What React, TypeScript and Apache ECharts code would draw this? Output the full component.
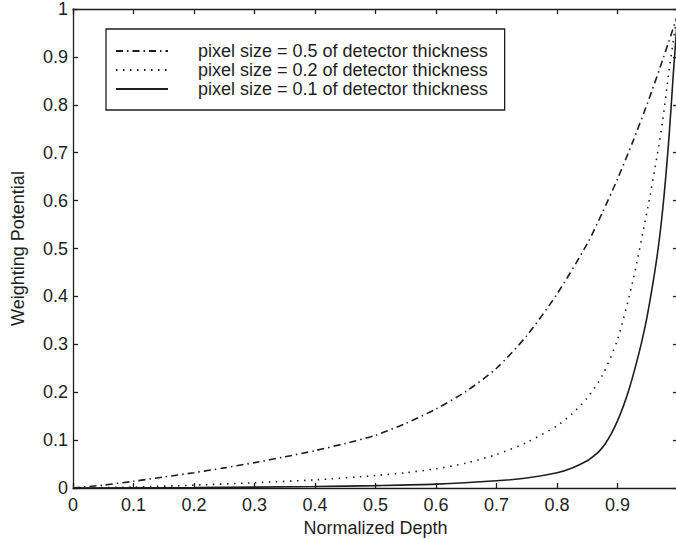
import React, { useEffect, useRef } from "react";
import * as echarts from "echarts";

// Normalized depth vs weighting potential
const seriesNames = [
  "pixel size = 0.5 of detector thickness",
  "pixel size = 0.2 of detector thickness",
  "pixel size = 0.1 of detector thickness",
];

const depth05 = [0, 0.05, 0.1, 0.15, 0.2, 0.25, 0.3, 0.35, 0.4, 0.45, 0.5, 0.55, 0.6, 0.65, 0.7, 0.75, 0.8, 0.85, 0.875, 0.9, 0.925, 0.95, 0.975, 1.0];
const pot05 = [0, 0.006, 0.014, 0.023, 0.032, 0.042, 0.053, 0.065, 0.078, 0.093, 0.11, 0.135, 0.165, 0.202, 0.25, 0.318, 0.405, 0.51, 0.575, 0.645, 0.722, 0.805, 0.895, 0.99];

const depth02 = [0, 0.1, 0.2, 0.3, 0.4, 0.5, 0.55, 0.6, 0.65, 0.7, 0.75, 0.8, 0.825, 0.85, 0.875, 0.9, 0.925, 0.95, 0.965, 0.975, 0.985, 1.0];
const pot02 = [0, 0.002, 0.006, 0.011, 0.017, 0.026, 0.032, 0.04, 0.052, 0.07, 0.095, 0.13, 0.155, 0.188, 0.235, 0.31, 0.43, 0.585, 0.69, 0.77, 0.87, 1.0];

const depth01 = [0, 0.2, 0.4, 0.5, 0.6, 0.7, 0.75, 0.8, 0.825, 0.85, 0.86, 0.87, 0.88, 0.89, 0.9, 0.91, 0.92, 0.93, 0.94, 0.95, 0.965, 0.975, 0.985, 0.992, 1.0];
const pot01 = [0, 0.001, 0.003, 0.005, 0.008, 0.015, 0.021, 0.032, 0.042, 0.057, 0.066, 0.077, 0.093, 0.114, 0.14, 0.172, 0.21, 0.255, 0.305, 0.365, 0.48, 0.585, 0.73, 0.86, 1.0];

const xTicks = { min: 0, max: 1, interval: 0.1 };
const yTicks = { min: 0, max: 1, interval: 0.1 };

const FONT = "'Liberation Sans', Arial, Helvetica, sans-serif";
const INK = "#1e1e1e";

const pairs = (xs: number[], ys: number[]) => xs.map((x, i) => [x, ys[i]]);

export default function App() {
  const ref = useRef<HTMLDivElement>(null);
  useEffect(() => {
    if (!ref.current) return;
    const chart = echarts.init(ref.current, undefined, { renderer: "svg" });
    const axisCommon = {
      type: "value" as const,
      axisLine: { show: true, onZero: false, lineStyle: { color: INK, width: 1.3 } },
      axisTick: { show: true, inside: true, length: 5, lineStyle: { color: INK, width: 1.3 } },
      splitLine: { show: false },
    };
    const labelStyle = { color: INK, fontSize: 18, fontFamily: FONT };
    const lineCommon = (type: any) => ({
      type: "line" as const,
      showSymbol: false,
      symbol: "none",
      smooth: 0.25,
      lineStyle: { color: INK, width: 1.6, type },
      itemStyle: { color: INK },
      clip: true,
    });
    chart.setOption({
      animation: false,
      backgroundColor: "#ffffff",
      grid: { left: 73, right: -2, top: 9, bottom: 51, containLabel: false, outerBoundsMode: "none" },
      legend: {
        orient: "vertical",
        left: 106,
        top: 29,
        padding: [13, 17, 12, 9],
        itemWidth: 52,
        itemHeight: 10,
        itemGap: 1,
        borderColor: INK,
        borderWidth: 1.3,
        backgroundColor: "#ffffff",
        itemStyle: { opacity: 0 },
        textStyle: { color: INK, fontSize: 18, fontFamily: FONT, padding: [0, 0, 0, 25] },
        data: seriesNames,
        selectedMode: false,
      },
      xAxis: [
        {
          ...axisCommon,
          ...xTicks,
          position: "bottom",
          name: "Normalized Depth",
          nameLocation: "middle",
          nameGap: 21,
          nameTextStyle: { ...labelStyle },
          axisLabel: { ...labelStyle, margin: 8, showMaxLabel: false },
        },
        {
          ...axisCommon,
          ...xTicks,
          position: "top",
          axisLabel: { show: false },
        },
      ],
      yAxis: [
        {
          ...axisCommon,
          ...yTicks,
          position: "left",
          name: "Weighting Potential",
          nameLocation: "middle",
          nameGap: 46,
          nameTextStyle: { ...labelStyle },
          axisLabel: { ...labelStyle, margin: 5 },
        },
        {
          ...axisCommon,
          ...yTicks,
          position: "right",
          axisLabel: { show: false },
        },
      ],
      series: [
        { ...lineCommon([7, 4, 1.5, 4]), name: seriesNames[0], data: pairs(depth05, pot05) },
        { ...lineCommon([1.5, 5.5]), name: seriesNames[1], data: pairs(depth02, pot02) },
        { ...lineCommon("solid"), name: seriesNames[2], data: pairs(depth01, pot01) },
      ],
    });
    return () => chart.dispose();
  }, []);
  return <div ref={ref} style={{ width: 676, height: 539, position: "absolute", left: 0, top: 0 }} />;
}
